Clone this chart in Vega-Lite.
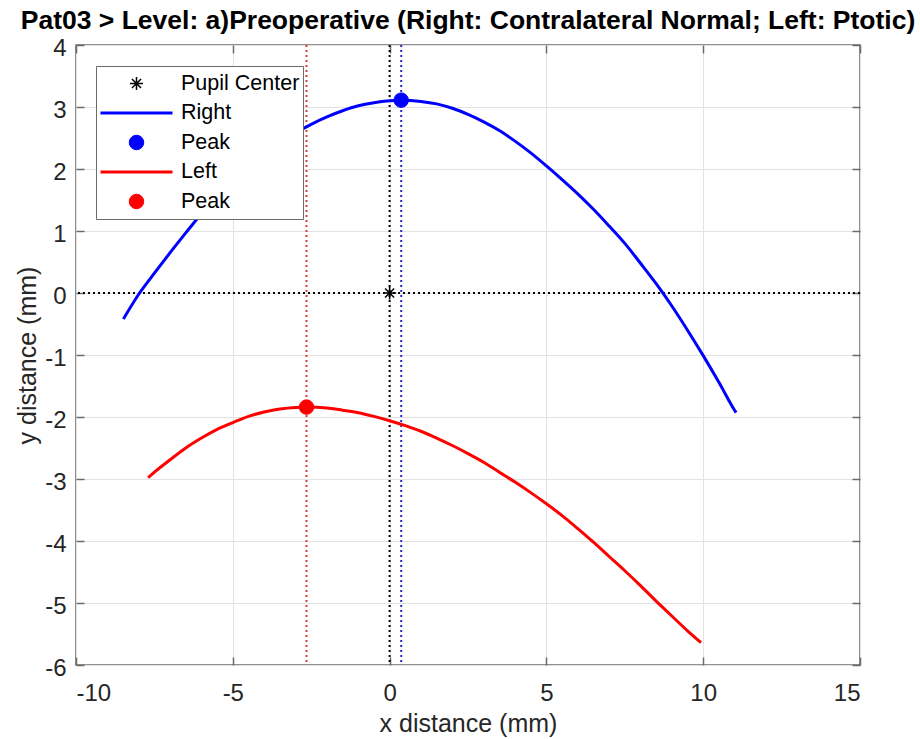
{
  "$schema": "https://vega.github.io/schema/vega-lite/v6.json",
  "width": 784,
  "height": 620,
  "autosize": "none",
  "padding": {"left": 76, "top": 45, "right": 60, "bottom": 74},
  "background": "white",
  "title": {
    "text": "Pat03 > Level: a)Preoperative (Right: Contralateral Normal; Left: Ptotic)",
    "font": "Liberation Sans", "fontSize": 26.5, "fontWeight": "bold", "color": "#000000",
    "anchor": "middle", "offset": -1, "dy": -3
  },
  "config": {
    "view": {"stroke": "#6b6b6b", "strokeWidth": 1.5},
    "axis": {
      "labelFont": "Liberation Sans", "labelFontSize": 24, "labelColor": "#262626",
      "titleFont": "Liberation Sans", "titleFontSize": 25, "titleFontWeight": "normal", "titleColor": "#262626",
      "gridColor": "#e2e2e2", "gridWidth": 1, "domain": false,
      "tickColor": "#6b6b6b", "tickSize": -8, "tickWidth": 1.5,
      "labelExpr": "datum.value < 0 ? '-' + abs(datum.value) : '' + datum.value"
    },
    "legend": {
      "labelFont": "Liberation Sans", "labelFontSize": 21.5, "labelColor": "#000000",
      "labelOffset": 7, "strokeColor": "#6b6b6b", "fillColor": "white",
      "padding": 3, "clipHeight": 29, "rowPadding": 0.5, "symbolOpacity": 1
    }
  },
  "datasets": {
    "curves": [
      {"series": "Right", "x": -8.49, "y": -0.42},
      {"series": "Right", "x": -8, "y": -0.02},
      {"series": "Right", "x": -7.5, "y": 0.32},
      {"series": "Right", "x": -7, "y": 0.65},
      {"series": "Right", "x": -6.5, "y": 0.97},
      {"series": "Right", "x": -6, "y": 1.28},
      {"series": "Right", "x": -5.5, "y": 1.55},
      {"series": "Right", "x": -5, "y": 1.79},
      {"series": "Right", "x": -4.5, "y": 2.02},
      {"series": "Right", "x": -4, "y": 2.23},
      {"series": "Right", "x": -3.5, "y": 2.42},
      {"series": "Right", "x": -3, "y": 2.58},
      {"series": "Right", "x": -2.5, "y": 2.72},
      {"series": "Right", "x": -2, "y": 2.84},
      {"series": "Right", "x": -1.5, "y": 2.94},
      {"series": "Right", "x": -1, "y": 3.02},
      {"series": "Right", "x": -0.5, "y": 3.07},
      {"series": "Right", "x": 0, "y": 3.10},
      {"series": "Right", "x": 0.37, "y": 3.11},
      {"series": "Right", "x": 1, "y": 3.09},
      {"series": "Right", "x": 1.5, "y": 3.05},
      {"series": "Right", "x": 2, "y": 2.98},
      {"series": "Right", "x": 2.5, "y": 2.88},
      {"series": "Right", "x": 3, "y": 2.76},
      {"series": "Right", "x": 3.5, "y": 2.62},
      {"series": "Right", "x": 4, "y": 2.45},
      {"series": "Right", "x": 4.5, "y": 2.26},
      {"series": "Right", "x": 5, "y": 2.05},
      {"series": "Right", "x": 5.5, "y": 1.83},
      {"series": "Right", "x": 6, "y": 1.60},
      {"series": "Right", "x": 6.5, "y": 1.35},
      {"series": "Right", "x": 7, "y": 1.08},
      {"series": "Right", "x": 7.5, "y": 0.80},
      {"series": "Right", "x": 8, "y": 0.48},
      {"series": "Right", "x": 8.5, "y": 0.15},
      {"series": "Right", "x": 9, "y": -0.21},
      {"series": "Right", "x": 9.5, "y": -0.60},
      {"series": "Right", "x": 10, "y": -1.01},
      {"series": "Right", "x": 10.5, "y": -1.44},
      {"series": "Right", "x": 11, "y": -1.89},
      {"series": "Right", "x": 11.05, "y": -1.93},
      {"series": "Left", "x": -7.70, "y": -2.98},
      {"series": "Left", "x": -7.5, "y": -2.89},
      {"series": "Left", "x": -7, "y": -2.69},
      {"series": "Left", "x": -6.5, "y": -2.50},
      {"series": "Left", "x": -6, "y": -2.34},
      {"series": "Left", "x": -5.5, "y": -2.20},
      {"series": "Left", "x": -5, "y": -2.09},
      {"series": "Left", "x": -4.5, "y": -1.99},
      {"series": "Left", "x": -4, "y": -1.92},
      {"series": "Left", "x": -3.5, "y": -1.87},
      {"series": "Left", "x": -3, "y": -1.845},
      {"series": "Left", "x": -2.65, "y": -1.84},
      {"series": "Left", "x": -2, "y": -1.855},
      {"series": "Left", "x": -1.5, "y": -1.89},
      {"series": "Left", "x": -1, "y": -1.93},
      {"series": "Left", "x": -0.5, "y": -1.99},
      {"series": "Left", "x": 0, "y": -2.06},
      {"series": "Left", "x": 0.5, "y": -2.14},
      {"series": "Left", "x": 1, "y": -2.23},
      {"series": "Left", "x": 1.5, "y": -2.34},
      {"series": "Left", "x": 2, "y": -2.46},
      {"series": "Left", "x": 2.5, "y": -2.59},
      {"series": "Left", "x": 3, "y": -2.73},
      {"series": "Left", "x": 3.5, "y": -2.89},
      {"series": "Left", "x": 4, "y": -3.05},
      {"series": "Left", "x": 4.5, "y": -3.22},
      {"series": "Left", "x": 5, "y": -3.40},
      {"series": "Left", "x": 5.5, "y": -3.59},
      {"series": "Left", "x": 6, "y": -3.80},
      {"series": "Left", "x": 6.5, "y": -4.02},
      {"series": "Left", "x": 7, "y": -4.25},
      {"series": "Left", "x": 7.5, "y": -4.48},
      {"series": "Left", "x": 8, "y": -4.72},
      {"series": "Left", "x": 8.5, "y": -4.97},
      {"series": "Left", "x": 9, "y": -5.21},
      {"series": "Left", "x": 9.5, "y": -5.45},
      {"series": "Left", "x": 9.93, "y": -5.64}
    ],
    "points": [
      {"series": "Pupil Center", "x": 0, "y": 0},
      {"series": "Peak R", "x": 0.37, "y": 3.11},
      {"series": "Peak L", "x": -2.65, "y": -1.84}
    ],
    "vlines": [
      {"x": -2.65, "col": "#e03a3a"},
      {"x": 0, "col": "#000000"},
      {"x": 0.37, "col": "#2a2ad0"}
    ]
  },
  "layer": [
    {
      "data": {"name": "vlines"},
      "mark": {"type": "rule", "strokeDash": [2, 3], "strokeWidth": 2},
      "encoding": {
        "x": {"field": "x", "type": "quantitative", "scale": {"domain": [-10, 15], "nice": false, "zero": false}, "axis": null},
        "stroke": {"field": "col", "type": "nominal", "scale": null}
      }
    },
    {
      "data": {"values": [{"y": 0}]},
      "mark": {"type": "rule", "strokeDash": [2, 3], "strokeWidth": 2, "color": "#000000"},
      "encoding": {
        "y": {"field": "y", "type": "quantitative", "scale": {"domain": [-6, 4], "nice": false, "zero": false}, "axis": null}
      }
    },
    {
      "data": {"name": "curves"},
      "mark": {"type": "line", "strokeCap": "butt", "interpolate": "monotone"},
      "encoding": {
        "x": {"field": "x", "type": "quantitative", "scale": {"domain": [-10, 15], "nice": false, "zero": false},
          "axis": {"orient": "bottom", "values": [-10, -5, 0, 5, 10, 15], "title": "x distance (mm)", "grid": true, "labelPadding": 24, "titlePadding": 6}},
        "y": {"field": "y", "type": "quantitative", "scale": {"domain": [-6, 4], "nice": false, "zero": false},
          "axis": {"orient": "left", "values": [-6, -5, -4, -3, -2, -1, 0, 1, 2, 3, 4], "title": "y distance (mm)", "grid": true, "labelPadding": 18, "titlePadding": 4, "labelOffset": 3}},
        "stroke": {"field": "series", "type": "nominal",
          "scale": {"domain": ["Pupil Center", "Right", "Peak R", "Left", "Peak L"], "range": ["#000000", "#0000ff", "#0000ff", "#ff0000", "#ff0000"]},
          "legend": {"title": null, "orient": "none", "legendX": 20, "legendY": 21, "labelExpr": "datum.label == 'Peak R' || datum.label == 'Peak L' ? 'Peak' : datum.label"}},
        "strokeWidth": {"field": "series", "type": "nominal",
          "scale": {"type": "ordinal", "domain": ["Pupil Center", "Right", "Peak R", "Left", "Peak L"], "range": [1.5, 3, 1, 3, 1]},
          "legend": {"title": null, "orient": "none", "legendX": 20, "legendY": 21, "labelExpr": "datum.label == 'Peak R' || datum.label == 'Peak L' ? 'Peak' : datum.label"}}
      }
    },
    {
      "data": {"name": "points"},
      "mark": {"type": "point", "opacity": 1},
      "encoding": {
        "x": {"field": "x", "type": "quantitative", "scale": {"domain": [-10, 15], "nice": false, "zero": false},
          "axis": {"orient": "top", "values": [-10, -5, 0, 5, 10, 15], "title": null, "grid": false, "labels": false}},
        "y": {"field": "y", "type": "quantitative", "scale": {"domain": [-6, 4], "nice": false, "zero": false},
          "axis": {"orient": "right", "values": [-6, -5, -4, -3, -2, -1, 0, 1, 2, 3, 4], "title": null, "grid": false, "labels": false}},
        "shape": {"field": "series", "type": "nominal",
          "scale": {"domain": ["Pupil Center", "Right", "Peak R", "Left", "Peak L"], "range": ["M0,-1V1M-1,0H1M-0.7,-0.7L0.7,0.7M-0.7,0.7L0.7,-0.7", "stroke", "circle", "stroke", "circle"]},
          "legend": {"title": null, "orient": "none", "legendX": 20, "legendY": 21, "labelExpr": "datum.label == 'Peak R' || datum.label == 'Peak L' ? 'Peak' : datum.label"}},
        "fill": {"field": "series", "type": "nominal",
          "scale": {"domain": ["Pupil Center", "Right", "Peak R", "Left", "Peak L"], "range": ["transparent", "transparent", "#0000ff", "transparent", "#ff0000"]},
          "legend": {"title": null, "orient": "none", "legendX": 20, "legendY": 21, "labelExpr": "datum.label == 'Peak R' || datum.label == 'Peak L' ? 'Peak' : datum.label"}},
        "stroke": {"field": "series", "type": "nominal",
          "scale": {"domain": ["Pupil Center", "Right", "Peak R", "Left", "Peak L"], "range": ["#000000", "#0000ff", "#0000ff", "#ff0000", "#ff0000"]},
          "legend": {"title": null, "orient": "none", "legendX": 20, "legendY": 21, "labelExpr": "datum.label == 'Peak R' || datum.label == 'Peak L' ? 'Peak' : datum.label"}},
        "size": {"field": "series", "type": "nominal",
          "scale": {"type": "ordinal", "domain": ["Pupil Center", "Right", "Peak R", "Left", "Peak L"], "range": [169, 5184, 210, 5184, 210]},
          "legend": {"title": null, "orient": "none", "legendX": 20, "legendY": 21, "labelExpr": "datum.label == 'Peak R' || datum.label == 'Peak L' ? 'Peak' : datum.label"}},
        "strokeWidth": {"field": "series", "type": "nominal",
          "scale": {"type": "ordinal", "domain": ["Pupil Center", "Right", "Peak R", "Left", "Peak L"], "range": [1.5, 3, 1, 3, 1]},
          "legend": {"title": null, "orient": "none", "legendX": 20, "legendY": 21, "labelExpr": "datum.label == 'Peak R' || datum.label == 'Peak L' ? 'Peak' : datum.label"}}
      }
    }
  ],
  "resolve": {"axis": {"x": "independent", "y": "independent"}}
}
